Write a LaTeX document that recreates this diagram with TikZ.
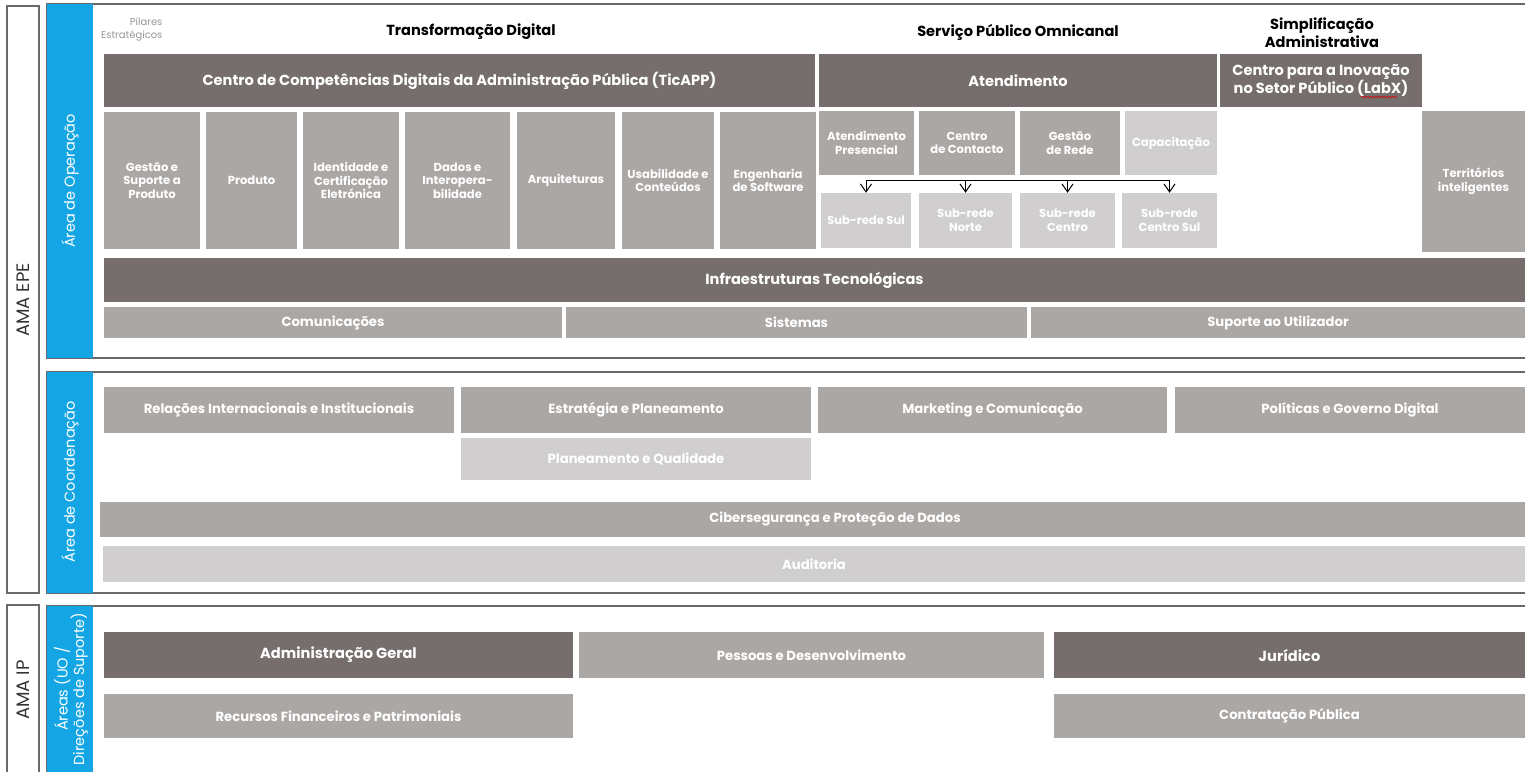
\documentclass[tikz,border=0pt]{standalone}
\usepackage{fontspec}
\setmainfont{Poppins}
\usetikzlibrary{arrows.meta,decorations.pathmorphing}
\definecolor{dk}{RGB}{118,110,109}
\definecolor{md}{RGB}{171,167,165}
\definecolor{lt}{RGB}{209,206,207}
\definecolor{blu}{RGB}{20,166,228}
\definecolor{frm}{RGB}{105,105,105}
\definecolor{pilc}{RGB}{150,150,150}
\newcommand\orgbox[7]{\node[boxbase,#2,minimum width={(#5-#3)*1pt},minimum height={(#6-#4)*1pt}] (#1) at ({(#3+#5)/2},{(#4+#6)/2}) {#7};}
\tikzset{
  boxbase/.style={inner sep=0pt, align=center, text=white, font=\bfseries},
  dkbox/.style={fill=dk},
  mdbox/.style={fill=md},
  ltbox/.style={fill=lt},
  big/.style={font=\fontsize{14.6}{18}\selectfont\bfseries},
  mid/.style={font=\fontsize{13.2}{16}\selectfont\bfseries},
  sml/.style={font=\fontsize{11.6}{13.6}\selectfont\bfseries},
  frame/.style={draw=frm, line width=1.3pt},
  bluebar/.style={fill=blu},
  vlabel/.style={rotate=90, text=white, align=center, font=\fontsize{14.5}{16.5}\selectfont},
  amalabel/.style={rotate=90, text=black!80, font=\fontsize{18}{20}\selectfont},
  title/.style={align=center, text=black, font=\fontsize{14.6}{18}\selectfont\bfseries},
  pil/.style={align=right, text=pilc, font=\fontsize{10}{13}\selectfont},
  bus/.style={draw=black, line width=1pt},
  arr/.style={draw=black, line width=1pt, -{Straight Barb[length=8pt,width=11pt]}},
  spell/.style={draw=red!85!black, line width=0.6pt, decorate, decoration={snake, amplitude=0.7pt, segment length=3pt}}
}
\begin{document}
\begin{tikzpicture}[x=1pt,y=-1pt]
\useasboundingbox (0,0) rectangle (1525,771);
% outer frames
\draw[frame] (7,6) rectangle (39,593);
\draw[frame] (7,605) rectangle (39,790);
\draw[frame] (47,4) rectangle (1560,358);
\draw[frame] (47,372) rectangle (1560,593);
\draw[frame] (47,606) rectangle (1560,790);
\fill[bluebar] (47,4) rectangle (93,358);
\fill[bluebar] (47,372) rectangle (93,593);
\fill[bluebar] (47,606) rectangle (93,790);
\node[amalabel] (amaepe) at (23,300) {AMA EPE};
\node[amalabel] (amaip) at (23,690) {AMA IP};
\node[vlabel] (vop) at (70,181) {Área de Operação};
\node[vlabel] (vco) at (70,482) {Área de Coordenação};
\node[vlabel] (vip) at (71,689) {Áreas (UO /\\Direções de Suporte)};
% titles
\node[pil, anchor=east] (pil) at (166,30) {Pilares\\Estratégicos};
\node[title] (tTD) at (471,32) {Transformação Digital};
\node[title] (tSP) at (1018,32) {Serviço Público Omnicanal};
\node[title] (tSA) at (1322,33) {Simplificação\\Administrativa};
% row 1
\orgbox{ticapp}{dkbox,big}{104}{54}{815}{107}{Centro de Competências Digitais da Administração Pública (TicAPP)}
\orgbox{atend}{dkbox,big}{819}{54}{1217}{107}{Atendimento}
\orgbox{labx}{dkbox,big}{1220}{54}{1422}{107}{Centro para a Inovação\\no Setor Público (LabX)}
\coordinate (spellL) at (1361,97);
\coordinate (spellR) at (1397,97);
\draw[spell] (spellL) -- (spellR);
% TicAPP children
\orgbox{g1}{mdbox,sml}{104}{112}{200}{249}{Gestão e\\Suporte a\\Produto}
\orgbox{g2}{mdbox,sml}{206}{112}{297}{249}{Produto}
\orgbox{g3}{mdbox,sml}{303}{112}{399}{249}{Identidade e\\Certificação\\Eletrónica}
\orgbox{g4}{mdbox,sml}{405}{112}{510}{249}{Dados e\\Interopera-\\bilidade}
\orgbox{g5}{mdbox,sml}{517}{112}{615}{249}{Arquiteturas}
\orgbox{g6}{mdbox,sml}{622}{112}{714}{249}{Usabilidade e\\Conteúdos}
\orgbox{g7}{mdbox,sml}{720}{112}{816}{249}{Engenharia\\de Software}
% Atendimento children
\orgbox{a1}{mdbox,sml}{819}{111}{914}{175}{Atendimento\\Presencial}
\orgbox{a2}{mdbox,sml}{919}{111}{1015}{175}{Centro\\de Contacto}
\orgbox{a3}{mdbox,sml}{1020}{111}{1120}{175}{Gestão\\de Rede}
\orgbox{a4}{ltbox,sml}{1125}{111}{1217}{175}{Capacitação}
\orgbox{s1}{ltbox,sml}{821}{193}{911}{248}{Sub-rede Sul}
\orgbox{s2}{ltbox,sml}{919}{193}{1012}{248}{Sub-rede\\Norte}
\orgbox{s3}{ltbox,sml}{1020}{193}{1115}{248}{Sub-rede\\Centro}
\orgbox{s4}{ltbox,sml}{1122}{193}{1217}{248}{Sub-rede\\Centro Sul}
\orgbox{terr}{mdbox,sml}{1422}{111}{1525}{252}{Territórios\\inteligentes}
% bus with arrows
\coordinate (busL) at (866,180);
\coordinate (busR) at (1169.5,180);
\draw[bus] (busL) -- (busR);
\draw[arr] (s1.north |- busL) -- (s1.north);
\draw[arr] (s2.north |- busL) -- (s2.north);
\draw[arr] (s3.north |- busL) -- (s3.north);
\draw[arr] (s4.north |- busL) -- (s4.north);
% infrastructure
\orgbox{infra}{dkbox,big}{104}{258}{1525}{302}{Infraestruturas Tecnológicas}
\orgbox{com}{mdbox,mid}{104}{307}{562}{338}{Comunicações}
\orgbox{sis}{mdbox,mid}{566}{307}{1027}{338}{Sistemas}
\orgbox{sup}{mdbox,mid}{1031}{307}{1525}{338}{Suporte ao Utilizador}
% coordination
\orgbox{rii}{mdbox,mid}{104}{387}{454}{433}{Relações Internacionais e Institucionais}
\orgbox{ep}{mdbox,mid}{461}{387}{811}{433}{Estratégia e Planeamento}
\orgbox{mc}{mdbox,mid}{818}{387}{1167}{433}{Marketing e Comunicação}
\orgbox{pgd}{mdbox,mid}{1175}{387}{1525}{433}{Políticas e Governo Digital}
\orgbox{pq}{ltbox,mid}{461}{438}{811}{480}{Planeamento e Qualidade}
\orgbox{cib}{mdbox,mid}{100}{502}{1570}{537}{Cibersegurança e Proteção de Dados}
\orgbox{aud}{ltbox,mid}{103}{546}{1525}{582}{Auditoria}
% AMA IP
\orgbox{ag}{dkbox,big}{104}{632}{573}{678}{Administração Geral}
\orgbox{pd}{mdbox,mid}{579}{632}{1044}{678}{Pessoas e Desenvolvimento}
\orgbox{ju}{dkbox,big}{1054}{632}{1525}{678}{Jurídico}
\orgbox{rf}{mdbox,mid}{104}{694}{573}{738}{Recursos Financeiros e Patrimoniais}
\orgbox{cp}{mdbox,mid}{1054}{694}{1525}{738}{Contratação Pública}
\end{tikzpicture}
\end{document}
